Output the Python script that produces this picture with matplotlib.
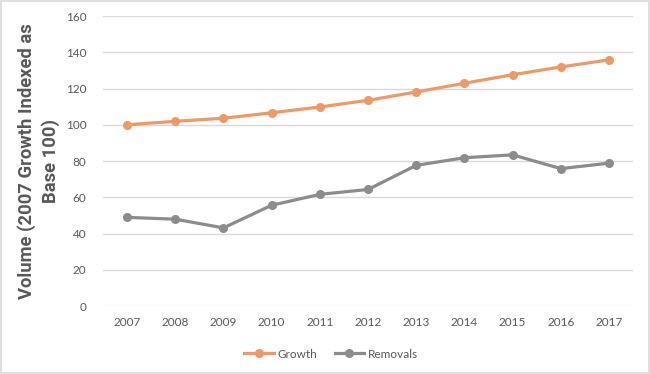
import matplotlib
matplotlib.use("Agg")
import matplotlib.pyplot as plt
from matplotlib.patches import Rectangle

years = ["2007", "2008", "2009", "2010", "2011", "2012", "2013", "2014", "2015", "2016", "2017"]
growth = [100.0, 101.9, 103.6, 106.6, 109.8, 113.5, 118.1, 122.9, 127.6, 131.9, 135.8]
removals = [48.9, 47.9, 43.1, 55.6, 61.6, 64.3, 77.6, 81.8, 83.4, 75.8, 78.8]
yticks = [0, 20, 40, 60, 80, 100, 120, 140, 160]

plt.rcParams['font.family'] = ['Lato', 'DejaVu Sans']
txt = '#595959'

fig = plt.figure(figsize=(6.5, 3.74), dpi=100)
fig.patches.append(Rectangle((0.0015, 0.002), 0.997, 0.996, transform=fig.transFigure,
                             fill=False, edgecolor='#D9D9D9', linewidth=1.2))
ax = fig.add_axes([0.1585, 0.1818, 0.8155, 0.7754])
x = list(range(len(years)))
ax.plot(x, growth, color='#ED9A68', lw=2.3, marker='o', ms=5.5, label='Growth')
ax.plot(x, removals, color='#8C8C8C', lw=2.3, marker='o', ms=5.5, label='Removals')
ax.set_xlim(-0.5, len(years) - 0.5)
ax.set_ylim(0, 160)
ax.set_yticks(yticks)
ax.set_xticks(x)
ax.set_xticklabels(years)
ax.grid(axis='y', color='#D9D9D9', lw=1)
ax.set_axisbelow(True)
for s in ax.spines.values():
    s.set_visible(False)
ax.tick_params(length=0, labelsize=8.5, labelcolor=txt, pad=8)
ax.tick_params(axis='y', pad=12)
ax.set_ylabel('Volume (2007 Growth Indexed as\nBase 100)', fontsize=13.2, fontweight='bold',
              family=['Roboto', 'DejaVu Sans'], color=txt, labelpad=4, linespacing=1.35,
              multialignment='center')
leg = ax.legend(loc='upper center', bbox_to_anchor=(0.43, -0.11), ncol=2, frameon=False,
                fontsize=8.5, handlelength=2.5, columnspacing=1.5, handletextpad=0.3)
for t in leg.get_texts():
    t.set_color(txt)
fig.savefig('out.png', dpi=100)
